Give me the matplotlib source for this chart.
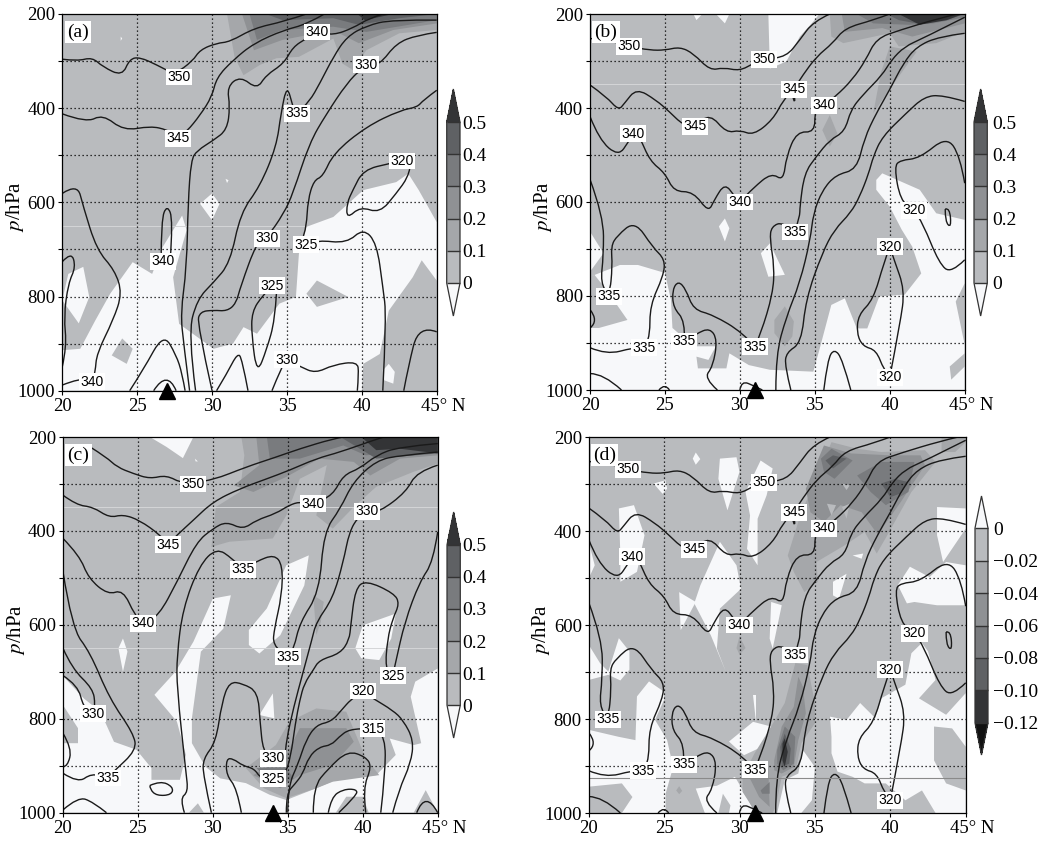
import matplotlib
matplotlib.use('Agg')
import matplotlib.pyplot as plt
from matplotlib.colors import ListedColormap, BoundaryNorm
from matplotlib.cm import ScalarMappable
from matplotlib.path import Path
from matplotlib.patches import PathPatch

plt.rcParams['font.family'] = ['Liberation Serif', 'DejaVu Sans']
plt.rcParams['mathtext.fontset'] = 'stix'

lat_ticks = [20, 25, 30, 35, 40]
p_ticks = [200, 300, 400, 500, 600, 700, 800, 900, 1000]
p_labels = ['200', '', '400', '', '600', '', '800', '', '1000']

band_colors = ['#f7f8fa', '#b9bbbe', '#a5a7aa', '#8f9194', '#797b7e', '#5f6164', '#333436']
levels_pos = [0, 0.1, 0.2, 0.3, 0.4, 0.5]
levels_neg = [-0.12, -0.10, -0.08, -0.06, -0.04, -0.02, 0]
labels_neg = ['\u22120.12', '\u22120.10', '\u22120.08', '\u22120.06', '\u22120.04', '\u22120.02', '0']

# isentropes (lat, hPa)
a_lines = [
    [(20,296),(21,300),(22,292),(22.7,312),(24,332),(24.5,295),(25.2,292),(26.3,308),(27.5,328),(28.7,300),(29.2,276),(30.3,262),(31.2,259),(32.8,230),(34.8,216),(36.3,200)],
    [(20,412),(21.6,431),(22.7,413),(24.1,448),(25.9,438),(27,446),(27.8,460),(28.3,450),(29.2,415),(30,375),(30.3,335),(31.4,298),(32.8,262),(34.8,234),(36.3,222),(37.5,200)],
    [(28.5,1000),(28.1,900),(27.9,835),(28.3,740),(28.4,600),(28.6,510),(29,490),(30.1,468),(31,446),(31.2,397),(31,354),(31.9,332),(33,360),(33.6,330),(34.8,305),(35.4,270),(36.3,252),(37,238),(38.1,245),(39.4,230),(40.5,209),(41.4,200)],
    [(28.9,1000),(28.4,880),(29,806),(30.1,770),(31.2,729),(31.9,622),(33.2,566),(34.3,481),(34.6,411),(35,350),(35.4,397),(35.6,412),(36.5,386),(37.2,347),(38.1,291),(39,248),(40.3,225),(42,212),(45,213)],
    [(30,1000),(29,857),(29.2,832),(30.1,829),(31,831),(31.6,815),(31.9,779),(33,683),(33.65,676),(34.8,623),(35.4,581),(36.5,474),(37.6,414),(39,347),(40,315),(41.2,308),(42.3,262),(43.7,245),(45,239)],
    [(45,362),(44.1,383),(43.7,398),(42.6,404),(40.3,439),(38.1,496),(37.4,545),(36.8,553),(36.4,595),(36.3,652),(36,680),(36.4,695),(37,680),(39,687),(40.1,655),(41,687),(41.4,779),(41.65,843),(41.4,1000)],
    [(43.2,528),(43.1,546),(42.3,581),(41.2,623),(39.9,609),(39,635),(39,602),(39.4,574),(40.1,531),(41.9,517),(42.7,512)],
    [(34.3,793),(34.2,850),(33.65,912),(33,965),(32.65,885),(32.65,832),(33.4,797),(34,777)],
    [(20,581),(21,560),(21.4,609),(22.3,701),(23.5,744),(24,793),(23.4,850),(22.3,921),(22.2,960),(22,981),(21.2,973),(20,988)],
    [(20,726),(20.6,705),(20.9,737),(20.4,772),(20.1,843),(20.3,906),(20,949)],
    [(24.5,1000),(25.4,956),(26.75,878),(27.6,924),(28,963),(28.2,1000)],
    [(26.1,1000),(27,955),(27.6,1000)],
    [(26.6,725),(26.6,637),(27,605),(27.4,637),(27.2,725)],
    [(30.3,1000),(31,963),(31.7,920),(32,932),(32.4,1000)],
    [(34,1000),(34.65,949),(35,934),(35.9,949),(36.9,963),(38.1,945),(39.7,938),(39.8,963),(39.7,1000)],
    [(42.8,1000),(43.1,949),(43.8,860),(45,875)],
]
bd_lines = [
    [(20,252),(21.5,258),(22.6,269),(24,277),(25,277),(26,270),(26.9,284),(28,320),(28.9,314),(30,321),(30.9,305),(31.6,296),(33.1,291),(34,255),(34.9,216),(36,200)],
    [(20,351),(21.1,376),(21.9,405),(22.3,390),(23.1,358),(24.4,383),(25.3,408),(26.2,436),(27,439),(28,412),(29.1,453),(30,447),(30.9,458),(32.2,425),(32.9,383),(33.6,360),(34.2,330),(35.1,291),(36.2,262),(37,230),(38.9,213),(40,200)],
    [(33.55,378),(33.7,395),(33.65,378)],
    [(20,418),(20.6,467),(21.9,503),(22.6,470),(22.9,455),(23.3,460),(24,513),(25,538),(25.6,578),(26.9,578),(27.9,622),(28.3,595),(29,560),(29.65,588),(30,600),(30.9,570),(32.1,538),(32.9,555),(33.1,503),(33.8,450),(35,452),(35,404),(35.6,394),(36.4,375),(37.5,340),(38.4,298),(39.1,252),(40.7,234),(43.3,209),(44.5,200)],
    [(20,552),(20.9,630),(20.9,715),(20.7,772),(21.3,801),(21.5,736),(21.4,694),(21.8,672),(23,640),(24.2,697),(25,722),(24.9,757),(24,820),(24,885),(23.6,910),(22.9,910),(21.1,925),(20,910)],
    [(20,829),(20.6,853),(20,868)],
    [(20,965),(20.9,965),(22.1,1000)],
    [(24.6,1000),(25,985),(25.3,1000)],
    [(26.3,896),(26.35,853),(25.55,825),(25.5,786),(25.9,768),(26.4,786),(26.9,829),(28.2,840),(30.2,878),(31,908)],
    [(31,908),(31.4,880),(32.2,795),(32.3,737),(32,680),(32.1,652),(32.9,642),(33.65,664)],
    [(26.3,896),(27.1,880),(28,868),(28.5,893),(28.2,950),(27.6,975),(28.5,1000)],
    [(30,1000),(30.1,980),(31,992),(31.5,1000)],
    [(33.65,664),(34,632),(34,610),(34.3,539),(35.1,503),(36,468),(37,450),(37.4,404),(38.2,372),(39.5,330),(40.1,298),(41,269),(42.2,252),(45,207)],
    [(32.4,1000),(32.4,925),(33.1,844),(34,772),(34.7,680),(34.9,624),(35.5,575),(36.4,542),(37.8,531),(38.3,465),(39.1,411),(40,361),(40.9,305),(41.8,269),(43.3,248),(45,241)],
    [(33.4,1000),(33,949),(33.1,920),(34.1,900),(34.4,807),(35.5,708),(36.3,659),(37.4,623),(38,588),(38.6,539),(38.9,503),(39.5,461),(41.1,411),(42.3,376),(43.5,372),(45,386)],
    [(45,560),(44.7,503),(43.8,460),(42,507),(40.7,511),(40.3,525),(40.7,596),(41.6,618),(42.2,645),(43.3,731),(44.1,752),(45,723)],
    [(43.7,615),(44,612),(44.1,655),(43.7,642),(43.7,615)],
    [(40,695),(39.6,730),(38.9,808),(37.9,840),(37.8,880),(38.2,907),(39.1,915),(39.6,957),(40,973)],
    [(40,695),(40.3,724),(41,787),(40.7,857),(40,973)],
    [(35.6,1000),(35.85,935),(36.3,912),(36.85,935),(37.4,1000)],
]
c_lines = [
    [(21.8,221),(22.9,243),(23.6,264),(24.7,278),(25.8,289),(26.9,281),(28,300),(30,292),(32.2,264),(34.2,243),(35.8,225),(38,204),(38.7,200)],
    [(20,324),(20.9,345),(22,349),(23.1,372),(24,365),(25.1,377),(26.5,409),(27,429),(27.6,409),(28.7,377),(30,338),(31.8,310),(33.6,289),(35.1,271),(36.9,246),(38.5,232),(40.7,207),(41.4,200)],
    [(20,416),(21.1,452),(21.7,501),(23,536),(24,525),(24.8,580),(25.35,597),(26.4,580),(27.6,509),(28.9,424),(30,395),(30.9,380),(32,397),(32.9,377),(34.2,363),(35.1,345),(35.8,338),(36.7,342),(38,324),(38.7,281),(39.8,267),(40.9,239),(42.4,221),(45,214)],
    [(28.1,1000),(27.8,970),(28.35,956),(28.2,913),(27.6,735),(27.6,665),(28,565),(29.1,473),(30.25,436),(31.3,459),(32,482),(32.9,465),(34.1,450),(34.65,473),(34.6,537),(34.1,608),(34,643),(35,668),(35.4,651),(35.8,595),(37.1,531),(37.4,402),(38.5,353),(39.35,296),(40.9,250),(42.5,239),(45,232)],
    [(31.9,1000),(31.6,948),(30.9,920),(30.9,885),(31.35,885),(32,900),(32.75,906),(33.2,927),(34,928),(34.8,920),(35.2,880),(35.5,810),(35.8,760),(36.1,725),(36.7,696),(37.1,675),(38.5,661),(39.1,632),(39.2,601),(39.5,523),(40.2,505),(42.1,533),(42.45,555),(42,587),(41.65,630),(41.5,693),(42,708),(42.2,679),(42.8,594),(43.8,508),(44.7,466),(45,402)],
    [(29.9,1000),(29.35,920),(29.35,885),(30.2,850),(30.6,765),(31.1,721),(32,725),(33,743),(33.15,807),(33.35,870),(34,884),(34.8,888),(34.9,846),(35.4,774),(36,703),(36.6,632),(36.9,594),(38,544),(38.7,466),(39.1,402),(39.7,370),(40.3,358),(41.1,360),(42.9,317),(43.6,274),(45,260)],
    [(35,1000),(35,945),(35.7,895),(36.2,846),(36.9,813),(37.9,806),(38.6,781),(39.2,759),(40,742),(40.7,757),(42,782),(42.7,803),(43.4,846),(43.2,895),(42.4,952),(42,1000)],
    [(34.9,1000),(34.9,959),(35.5,938),(36,917),(36.4,881),(37.1,860),(37.9,856),(38.4,839),(39.1,822),(40.65,821),(41.5,838),(41.5,917),(41.2,1000)],
    [(36.7,1000),(36.7,945),(37.7,906),(39,868),(40.2,881),(40.6,902),(40,949),(40.2,1000)],
    [(37.7,1000),(37.9,967),(38.7,950),(39.6,950),(39.6,963),(38.4,1000)],
    [(20,487),(20.6,608),(21.8,658),(23.1,757),(24.7,831),(24.9,867),(23.35,913),(23,926),(21.9,916),(21,937),(20,916)],
    [(20,650),(20.6,693),(22,736),(22.15,771),(22,789),(21.35,775),(21,729),(20,708)],
    [(20,831),(20.6,863),(20.3,902),(20,902)],
    [(20,994),(21,966),(22,977),(22.9,1000)],
    [(25.8,942),(26.5,932),(27.35,945),(27.25,962),(26.25,964),(25.8,950),(25.8,942)],
    [(43.6,1000),(44.2,952),(45,1000)],
]

# contour labels (text, lat, hPa)
a_labels = [('350',27.8,334),('345',27.7,464),('340',37,238),('330',40.3,308),('335',35.65,411),('320',42.7,512),
            ('330',33.65,676),('325',36.3,690),('340',26.7,725),('325',34,777),('330',35,934),('340',22,981)]
bd_labels = [('350',22.6,269),('350',31.6,296),('345',27,439),('345',33.6,360),('340',35.6,394),('340',22.9,455),
             ('340',30,600),('335',33.65,664),('320',41.6,618),('320',40,695),('335',21.3,801),('335',23.6,910),
             ('335',26.3,896),('335',31,908),('320',40,973)]
c_labels = [('350',28.7,300),('345',27,429),('340',36.7,342),('330',40.3,358),('335',32,482),('340',25.35,597),
            ('335',35,668),('325',42,708),('320',40,741),('330',22,789),('315',40.65,821),('330',34,884),
            ('325',34,928),('335',23,926)]

# shaded regions: (band number, outline in lat, hPa), band 0 is below the lowest level
a_shade = [
    (0,[(20,914),(21.2,911),(22.2,851),(23.2,794),(24.7,727),(26,752),(26.7,695),(28,628),(28.3,659),(27.4,759),(27.8,858),(30.1,911),(31.4,900),(32.1,865),(33,879),(34.5,815),(35.6,801),(35.8,709),(36.3,652),(38.1,631),(40.1,574),(42.3,557),(43.1,539),(43.8,574),(45,642),(45,766),(44,723),(43.4,759),(41.8,830),(41.2,922),(40.1,943),(40,1000),(20,1000)]),
    (0,[(20,808),(20.4,752),(21.4,737),(21.8,801),(21.1,857)]),
    (1,[(36.3,794),(37,766),(39.1,801),(37,822)]),
    (1,[(23.3,925),(24,889),(24.7,911),(24.3,943)]),
    (0,[(41.4,957),(41.8,943),(42.2,960),(42.1,985),(41.5,978)]),
    (0,[(29.2,603),(30,581),(30.5,603),(30,638)]),
    (0,[(23.9,248),(24,252),(23.9,257)]),
    (0,[(30.9,550),(31.1,553),(31,559)]),
    (2,[(31,200),(31.5,291),(32.1,330),(33.2,308),(34.3,294),(35.8,291),(38.1,252),(38.7,305),(39.4,319),(40.3,277),(42.5,241),(45,234),(45,200)]),
    (3,[(32,200),(32.8,277),(34.7,255),(37,241),(38.5,241),(39.8,262),(42.1,234),(45,220),(45,200)]),
    (4,[(32.5,200),(33,255),(34.7,234),(38.1,227),(40.3,238),(45,213),(45,200)]),
    (5,[(33.6,200),(34.7,213),(38.1,209),(39.8,223),(42.5,209),(45,200)]),
    (6,[(39.7,200),(40.2,213),(42.1,200)]),
]
b_shade = [
    (0,[(31.9,200),(32,316),(33.1,301),(34,248),(34.9,216),(35.3,200)]),
    (0,[(26.9,200),(27.1,213),(27.5,200)]),
    (0,[(28.4,200),(29,220),(29.3,200)]),
    (0,[(20,1000),(20,868),(20.6,868),(22.5,851),(21.1,787),(20.3,755),(20,759),(22,734),(23.2,734),(25,751),(25.4,808),(25.5,868),(26.9,907),(28.4,907),(27.9,936),(27.1,929),(27.2,954),(29.1,954),(29.3,922),(30.6,947),(32,957),(34.9,961),(35.3,915),(36.1,819),(37,805),(37.8,869),(38.5,869),(39.3,801),(41,797),(42.1,752),(41.5,695),(40.8,659),(40,610),(39.1,574),(39.1,553),(39.5,539),(42,574),(43.1,624),(45,638),(45,773),(44.4,812),(45,904),(45,1000)]),
    (0,[(20,663),(20.9,709),(20.1,744),(20,744)]),
    (1,[(44,950),(45,922),(45,950),(44.1,978)]),
    (0,[(28.6,652),(29,635),(29.3,656),(29,684)]),
    (0,[(31.4,709),(32,688),(33,755),(31.9,759)]),
    (2,[(32.3,851),(33,822),(33.6,854),(33.5,886),(33,907),(32.3,879)]),
    (2,[(35.5,447),(36,415),(36.5,454),(36,482)]),
    (2,[(38.9,411),(39.4,326),(40,269),(41.8,280),(40.6,333),(39.8,369)]),
    (2,[(36,200),(36.1,248),(36.9,262),(40,241),(40.6,269),(43.1,262),(45,238),(45,200)]),
    (3,[(36.8,200),(37,238),(39.5,230),(41.5,248),(45,220),(45,200)]),
    (4,[(37.8,200),(38.9,220),(41.3,223),(42.9,220),(45,207),(45,200)]),
    (5,[(39.8,200),(40.6,213),(41.8,220),(43.8,213),(45,200)]),
    (6,[(40.6,200),(42,223),(43.8,213),(44.9,200)]),
]
c_shade = [
    (0,[(25.8,200),(28.7,200),(28,245),(26.9,221)]),
    (0,[(28.8,246),(29,252),(28.85,252)]),
    (0,[(23.7,650),(24,629),(24.3,657),(24,700)]),
    (0,[(33.6,565),(34.9,473),(36.4,452),(36.1,516),(34.5,622),(33.1,661),(32.4,643),(32.4,611)]),
    (0,[(20,709),(21.4,757),(22.5,785),(23.4,849),(24.9,866),(25.9,905),(25.9,930),(27.8,930),(28.2,877),(27.6,806),(26.1,749),(27.5,700),(28.7,636),(30,544),(31.2,537),(30.7,608),(29.2,657),(28.6,799),(28.6,852),(29.5,902),(30.5,927),(32.2,937),(33.8,962),(34.9,973),(36.9,948),(38.2,930),(40.9,920),(42.2,877),(41.8,842),(43.4,856),(43.9,852),(43.2,753),(43.5,721),(45,693),(45,1000),(20,1000)]),
    (1,[(20,771),(21,820),(21,852),(20,852)]),
    (1,[(38.2,1000),(38.9,966),(40,966),(40.4,1000)]),
    (1,[(28.4,1000),(29,980),(29.4,1000)]),
    (1,[(43.4,1000),(44.2,952),(45,1000)]),
    (0,[(33.1,792),(34,746),(34.1,799)]),
    (0,[(39.5,650),(40,601),(42.2,576),(41.9,629),(41.1,675),(39.9,671)]),
    (2,[(29.9,434),(30.2,349),(31.8,317),(32.1,239),(31.9,200),(45,200),(45,257),(43.4,274),(40.9,306),(39.4,349),(38,395),(36.9,367),(37.6,260),(35.8,289),(34.9,367),(34,416),(31.1,423)]),
    (2,[(32.2,905),(34.2,856),(35.1,806),(36.9,778),(38.9,785),(40.2,884),(41.1,920),(38,934),(36.9,948),(34.9,969),(33.4,948)]),
    (2,[(36.7,537),(37.4,551),(37.2,594),(36.9,622)]),
    (3,[(32.7,920),(34.9,877),(35.8,820),(38.9,820),(39.4,849),(38,898),(35.8,920),(34.5,948)]),
    (4,[(32.9,905),(34.9,905),(35.4,927),(34.2,944)]),
    (3,[(32.9,200),(33.1,260),(31.4,303),(32.7,317),(34.9,285),(37.1,246),(39.4,253),(40.5,282),(42.5,246),(45,239),(45,200)]),
    (4,[(33.6,200),(33.8,246),(35.8,246),(38.7,218),(40.2,239),(42.5,232),(45,228),(45,200)]),
    (5,[(38.5,200),(39.6,221),(40.9,246),(45,235),(45,200)]),
    (6,[(39.9,200),(40.9,228),(42.5,225),(45,235),(45,200)]),
]
d_shade = [
    (0,[(26.9,246),(27.1,233),(27.4,247),(27.1,259)]),
    (0,[(28.7,246),(29.8,243),(30,274),(29.2,356),(28.6,289)]),
    (0,[(30.4,317),(31.4,250),(32.2,267),(31.8,324),(31.2,374),(31.2,473),(30.5,438),(30.7,367)]),
    (0,[(24.3,299),(25.1,292),(25.2,310),(24.9,321)]),
    (0,[(22,352),(23,345),(23.7,409),(23.2,487),(22.1,508),(22.1,452)]),
    (0,[(20,423),(20.4,473),(20,501)]),
    (0,[(26,530),(27.1,551),(26.1,611)]),
    (0,[(27.4,516),(28.7,423),(29.8,473),(30.1,523),(28.7,565),(28.5,650),(29.1,700),(28.1,622),(27,554)]),
    (0,[(32.1,551),(32.8,558),(32.2,650),(32,629)]),
    (0,[(36.2,508),(37.1,491),(36.6,544),(36.2,537)]),
    (0,[(37.5,452),(38.2,448),(38.1,459)]),
    (0,[(43.1,349),(45,352),(45,395),(43.5,466),(43.1,409)]),
    (0,[(40.5,515),(41.3,476),(42.6,498),(43.7,466),(45,473),(45,558),(43.1,558),(41.6,551),(41.1,554)]),
    (0,[(20,642),(20.75,681),(21.3,699),(22,628),(22.7,656),(22.7,695),(22.1,718),(21.3,706),(20,717)]),
    (0,[(20,823),(22,838),(23.1,845),(23.2,752),(24,720),(25,742),(25,759),(24.4,802),(25.2,845),(25.6,902),(25.1,959),(25.1,1000),(20,1000)]),
    (1,[(20,944),(22.2,937),(22.9,966),(22.2,1000),(20,1000)]),
    (0,[(27.1,948),(28.5,942),(29.7,923),(30.6,973),(31,1000),(27.7,1000)]),
    (1,[(28.6,1000),(28.9,959),(29.4,984),(29.3,1000)]),
    (0,[(30.9,806),(29.3,848),(30.3,877),(31.5,859),(32.1,816)]),
    (0,[(30.9,749),(31.1,749),(31.1,806)]),
    (0,[(32.5,1000),(33,930),(33.9,916),(34.2,866),(35,902),(34.8,973),(34.1,1000)]),
    (0,[(36,795),(37.1,802),(38,766),(39,798),(39.4,756),(41,727),(41.4,660),(42.1,638),(42.5,656),(43,717),(41.9,756),(43.7,791),(45,745),(45,859),(44.1,820),(42.9,816),(42.9,888),(43.7,937),(45,952),(45,1000),(43,1000),(42.1,952),(41,973),(39.7,937),(38.3,937),(37.5,923),(36.5,912),(36.1,873),(36.1,838)]),
    (2,[(30.2,923),(31,873),(32.1,816),(33,766),(33.7,681),(34.5,685),(35,766),(35,809),(34.1,852),(33.7,912),(32.8,923),(32.4,987),(32.2,1000),(31.1,1000),(30.2,955)]),
    (3,[(30.7,927),(31.9,900),(32,987),(31.3,966)]),
    (3,[(32.3,888),(32.8,816),(33.6,774),(33.9,710),(34.2,731),(34.4,788),(33.9,845),(33.6,902),(32.8,916),(32.3,909)]),
    (4,[(31.4,952),(32,934),(32,959),(31.5,959)]),
    (4,[(32.5,866),(33,816),(33.7,838),(33.6,895),(32.9,909),(32.5,895)]),
    (5,[(32.7,859),(33,831),(33.4,863),(33.3,895),(32.8,902)]),
    (6,[(32.85,852),(33,841),(33.2,870),(33,902),(32.85,888)]),
    (2,[(29.8,649),(30,624),(30.4,649),(30,663)]),
    (2,[(25.8,952),(26,943),(26.2,953),(26,960)]),
    (2,[(33.2,452),(34.1,360),(35,296),(36.1,211),(37.8,225),(39.4,232),(42.3,228),(43,253),(41.4,317),(39.8,409),(39.1,448),(38.3,402),(37,430),(35.1,466),(35.2,508),(34.3,530),(33.6,487)]),
    (2,[(43.4,232),(44.3,232),(45,211),(45,200),(43.4,200)]),
    (3,[(34.4,310),(35.6,218),(37.4,235),(40,239),(42,239),(42.3,260),(40.7,338),(39.6,388),(39.2,409),(38.1,360),(36.7,345),(35.6,381),(34.7,360)]),
    (4,[(35.4,246),(36.1,225),(37.5,250),(36.3,289),(35.6,274)]),
    (4,[(37.8,282),(39.4,253),(41.6,253),(41.2,317),(39.7,345),(38.7,317)]),
    (5,[(35.7,250),(36.2,239),(37.1,246),(36.2,267)]),
    (5,[(39.4,299),(40.3,289),(41.2,296),(40.7,320),(40,328)]),
    (1,[(35.8,342),(36.4,345),(36.1,367)]),
    (1,[(36.8,299),(37.3,303),(37.1,313)]),
    (1,[(36.8,349),(37.3,342),(37.1,374)]),
]

# faint horizontal streaks on the scan (hPa, lat from, lat to)
a_streaks = [(651, 20, 36.3)]
b_streaks = [(349, 20, 45)]
c_streaks = [(349, 20, 45), (650, 20, 45)]

W, H = 1046, 844
fig = plt.figure(figsize=(W / 100, H / 100), dpi=100)


def box(x0, y0, x1, y1):
    return [x0 / W, 1 - y1 / H, (x1 - x0) / W, (y1 - y0) / H]


def smooth_line(ax, line):
    # quadratic curves through the midpoints so the isentropes don't look faceted
    verts = [line[0]]
    codes = [Path.MOVETO]
    for i in range(1, len(line) - 1):
        nxt = line[i + 1]
        if i == len(line) - 2:
            end = nxt
        else:
            end = ((line[i][0] + nxt[0]) / 2, (line[i][1] + nxt[1]) / 2)
        verts += [line[i], end]
        codes += [Path.CURVE3, Path.CURVE3]
    if len(line) == 2:
        verts.append(line[1])
        codes.append(Path.LINETO)
    ax.add_patch(PathPatch(Path(verts, codes), fill=False, ec='#1a1a1a', lw=1.0, zorder=3))


def panel(rect, name, shade, lines, labels, marker_lat, streaks=()):
    ax = fig.add_axes(box(*rect))
    ax.set_facecolor(band_colors[1])
    for band, outline in shade:
        ax.fill([q[0] for q in outline], [q[1] for q in outline], color=band_colors[band], lw=0, zorder=1)
    for pr, la0, la1 in streaks:
        ax.hlines(pr, la0, la1, color='#d4d5d7', lw=0.7, zorder=1.5)
    ax.set_xlim(20, 45)
    ax.set_ylim(1000, 200)
    ax.set_xticks(lat_ticks + [45])
    ax.set_xticklabels([str(t) for t in lat_ticks] + [''], fontsize=13.5)
    ax.set_yticks(p_ticks)
    ax.set_yticklabels(p_labels, fontsize=13.5)
    ax.tick_params(length=3, width=0.8, pad=2)
    ax.set_ylabel('$p$/hPa', fontsize=15)
    ax.yaxis.set_label_coords(-0.097, 0.488)
    ax.annotate('45\u00b0 N', xy=(45, 1000), xytext=(-11, -5), textcoords='offset points',
                va='top', ha='left', fontsize=13.5, annotation_clip=False)
    ax.vlines(lat_ticks[1:], 200, 1000, color='k', lw=0.9, ls=(0, (1, 2.2)), zorder=2)
    ax.hlines(p_ticks[1:-1], 20, 45, color='k', lw=0.9, ls=(0, (1, 2.2)), zorder=2)
    for line in lines:
        smooth_line(ax, line)
    for txt, la, pr in labels:
        ax.text(la, pr, txt, fontsize=10, family='Liberation Sans', ha='center', va='center', zorder=4,
                bbox=dict(fc='white', ec='none', pad=1))
    ax.text(0.012, 0.975, name, transform=ax.transAxes, fontsize=14, va='top', ha='left', zorder=5,
            bbox=dict(fc='white', ec='none', pad=1.5))
    ax.plot([marker_lat], [1000], '^', color='k', ms=12, clip_on=False, zorder=6)
    for s in ax.spines.values():
        s.set_linewidth(0.9)
        s.set_zorder(5)
    return ax


def colorbar(rect, levels, colors, under, over, labels, frac, pad):
    cax = fig.add_axes(box(*rect))
    cmap = ListedColormap(colors)
    cmap.set_under(under)
    cmap.set_over(over)
    norm = BoundaryNorm(levels, cmap.N)
    cb = fig.colorbar(ScalarMappable(norm=norm, cmap=cmap), cax=cax, extend='both', extendfrac=frac,
                      ticks=levels, drawedges=True, spacing='uniform')
    cb.ax.set_yticklabels(labels, fontsize=14)
    cb.ax.tick_params(length=0, pad=pad)
    cb.dividers.set_color('#333333')
    cb.dividers.set_linewidth(1.0)
    cb.outline.set_linewidth(0.9)
    cb.outline.set_edgecolor('#333333')


panel((62.3, 14, 436.7, 390.7), '(a)', a_shade, a_lines, a_labels, 27, a_streaks)
panel((590, 14, 964.7, 390), '(b)', b_shade, bd_lines, bd_labels, 31, b_streaks)
panel((63, 437, 437.7, 812.7), '(c)', c_shade, c_lines, c_labels, 34, c_streaks)
ax_d = panel((588.7, 437, 965.7, 813), '(d)', d_shade, bd_lines, bd_labels, 31)
ax_d.axhline(925, color='#8a8a8a', lw=0.8, zorder=3)

pos_labels = ['0', '0.1', '0.2', '0.3', '0.4', '0.5']
pos_colors = band_colors[1:6]
colorbar((446.7, 89, 460, 316), levels_pos, pos_colors, band_colors[0], band_colors[6], pos_labels, 0.205, 1.5)
colorbar((974, 89, 987.3, 316), levels_pos, pos_colors, band_colors[0], band_colors[6], pos_labels, 0.205, 3.5)
colorbar((447, 512, 460.3, 738), levels_pos, pos_colors, band_colors[0], band_colors[6], pos_labels, 0.205, 1.5)
colorbar((975, 496, 988, 755), levels_neg, ['#333436', '#5f6164', '#797b7e', '#8f9194', '#a5a7aa', '#b9bbbe'],
         '#111111', band_colors[0], labels_neg, 0.165, 3.5)

fig.savefig('out.png', dpi=100)
